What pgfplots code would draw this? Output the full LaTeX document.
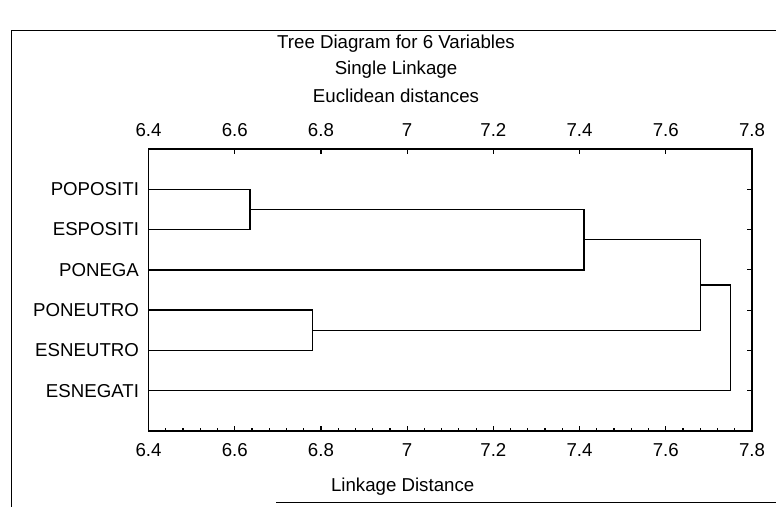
\documentclass[border=0pt]{standalone}
\usepackage{pgfplots}
\pgfplotsset{compat=1.18}
\usepackage{fontspec}
\setmainfont{Liberation Sans}

\begin{document}
\fontsize{14}{16}\selectfont
\begin{tikzpicture}
\useasboundingbox (0,0) rectangle (582pt,380.25pt);
% outer frame of the scanned page
\draw[line width=1.1pt] (8.5pt,-10pt) -- (8.5pt,357.5pt) -- (600pt,357.5pt);
\draw[line width=1.1pt] (207pt,3.5pt) -- (600pt,3.5pt);
% titles
\node[anchor=base] at (297pt,344pt) {Tree Diagram for 6 Variables};
\node[anchor=base] at (297pt,324pt) {Single Linkage};
\node[anchor=base] at (297pt,303pt) {Euclidean distances};
\node[anchor=base] at (302pt,11.25pt) {Linkage Distance};

\begin{axis}[
  at={(111.4pt,57pt)}, anchor=south west,
  scale only axis, width=452.6pt, height=211.5pt,
  xmin=6.4, xmax=7.8, ymin=0, ymax=7, y dir=reverse,
  xtick={6.4,6.6,6.8,7,7.2,7.4,7.6,7.8},
  xticklabels={6.4,6.6,6.8,7,7.2,7.4,7.6,7.8},
  minor x tick num=4,
  xtick pos=left,
  ytick={1,2,3,4,5,6},
  yticklabels={POPOSITI,ESPOSITI,PONEGA,PONEUTRO,ESNEUTRO,ESNEGATI},
  tick align=inside,
  major tick length=3.5pt, minor tick length=2.5pt,
  tick style={line width=0.9pt, black},
  axis line style={line width=1.4pt},
  xticklabel style={inner sep=0pt, yshift=-9pt},
  yticklabel style={inner sep=0pt, xshift=-7pt},
  /pgf/number format/assume math mode=true,
  clip=false,
]
\addplot[black, line width=1.15pt] coordinates {(6.4,1) (6.635,1) (6.635,2) (6.4,2)};
\addplot[black, line width=1.15pt] coordinates {(6.4,4) (6.78,4) (6.78,5) (6.4,5)};
\addplot[black, line width=1.15pt] coordinates {(6.635,1.5) (7.41,1.5) (7.41,3) (6.4,3)};
\addplot[black, line width=1.15pt] coordinates {(7.41,2.25) (7.68,2.25) (7.68,4.5) (6.78,4.5)};
\addplot[black, line width=1.15pt] coordinates {(7.68,3.375) (7.75,3.375) (7.75,6) (6.4,6)};
\end{axis}

\begin{axis}[
  at={(111.4pt,57pt)}, anchor=south west,
  scale only axis, width=452.6pt, height=211.5pt,
  xmin=6.4, xmax=7.8, ymin=0, ymax=7,
  xtick={6.4,6.6,6.8,7,7.2,7.4,7.6,7.8},
  xticklabels={6.4,6.6,6.8,7,7.2,7.4,7.6,7.8},
  xtick pos=right, xticklabel pos=right,
  ytick=\empty,
  tick align=inside,
  major tick length=3.5pt,
  tick style={line width=0.9pt, black},
  axis line style={line width=1.4pt},
  xticklabel style={inner sep=0pt, yshift=9pt},
  /pgf/number format/assume math mode=true,
]
\end{axis}
\end{tikzpicture}
\end{document}
